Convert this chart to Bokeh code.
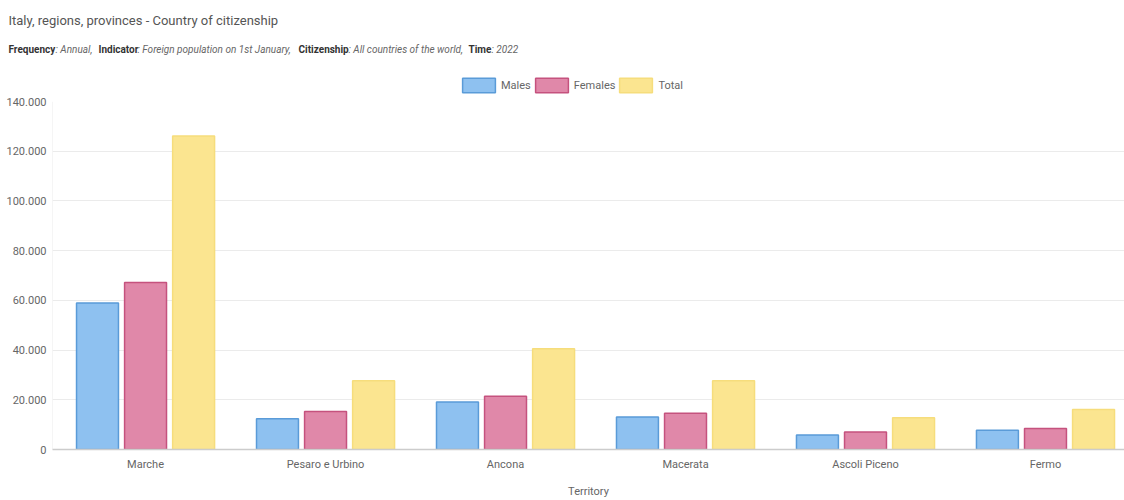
from bokeh.plotting import figure
from bokeh.models import ColumnDataSource, Range1d, FixedTicker, Legend, LegendItem, Label, Column
from bokeh.transform import dodge
from bokeh.embed import file_html
from bokeh.resources import INLINE

territories = ["Marche", "Pesaro e Urbino", "Ancona", "Macerata", "Ascoli Piceno", "Fermo"]
males = [58900, 12400, 19100, 13100, 5800, 7700]
females = [67200, 15300, 21400, 14600, 7000, 8400]
total = [126100, 27700, 40500, 27700, 12800, 16100]
series_names = ["Males", "Females", "Total"]
y_ticks = [0, 20000, 40000, 60000, 80000, 100000, 120000, 140000]
y_tick_labels = ["0", "20.000", "40.000", "60.000", "80.000", "100.000", "120.000", "140.000"]
title_text = "Italy, regions, provinces - Country of citizenship"
sub_text = ["Frequency", ": Annual,", "Indicator", ": Foreign population on 1st January,",
            "Citizenship", ": All countries of the world,", "Time", ": 2022"]

FONT = "Roboto"
fills = ["#8EC1F0", "#E088A9", "#FBE590"]
lines = ["#5A9BD8", "#C5527E", "#F6DD7C"]
fields = ["males", "females", "total"]
offsets = [-0.267, 0.0, 0.267]

src = ColumnDataSource(dict(
    xc=[i + 0.5 for i in range(len(territories))],
    males=males, females=females, total=total,
))

# ---------------- header (title, subtitle, legend) ----------------
h = figure(width=1124, height=95, output_backend="svg", toolbar_location=None,
           x_range=Range1d(0, 1124), y_range=Range1d(95, 0),
           x_axis_type=None, y_axis_type=None, min_border=0)
h.outline_line_color = None
h.grid.visible = False

h.add_layout(Label(x=8, y=20, text=title_text, text_font=FONT, text_font_size="13px",
                   text_color="#555555", text_baseline="middle"))
sub_style = ["bold", "italic"] * 4
sub_x = [8, 55, 98, 137, 298, 348, 468, 491]
for txt, style, sx in zip(sub_text, sub_style, sub_x):
    h.add_layout(Label(x=sx, y=49, text=txt, text_font=FONT, text_font_size="10px",
                       text_font_style=style,
                       text_color="#333333" if style == "bold" else "#666666",
                       text_baseline="middle"))

# hidden renderers used only as legend swatches
legend_r = []
for f, fc, lc in zip(fields, fills, lines):
    legend_r.append(h.vbar(x="xc", top=f, width=1, source=src, fill_color=fc,
                           line_color=lc, line_width=1.5, visible=False))
legend = Legend(items=[LegendItem(label=n, renderers=[r]) for n, r in zip(series_names, legend_r)],
                orientation="horizontal", location=(458, 1),
                glyph_width=41, glyph_height=18, label_height=18, label_standoff=2, spacing=0,
                padding=0, margin=0, border_line_color=None, background_fill_alpha=0,
                label_text_font=FONT, label_text_font_size="11px", label_text_color="#666666")
h.add_layout(legend)

# ---------------- main chart ----------------
p = figure(width=1124, height=405, output_backend="svg", toolbar_location=None,
           x_range=Range1d(-0.017, 5.939), y_range=Range1d(0, 140000),
           min_border_left=52, min_border_right=0, min_border_top=6, min_border_bottom=51)
p.outline_line_color = None

for f, fc, lc, off in zip(fields, fills, lines, offsets):
    p.vbar(x=dodge("xc", off), top=f, width=0.233, bottom=0, source=src,
           fill_color=fc, line_color=lc, line_width=1.5)

p.xaxis.ticker = FixedTicker(ticks=[i + 0.5 for i in range(len(territories))])
p.xaxis.major_label_overrides = {i + 0.5: t for i, t in enumerate(territories)}
p.xaxis.major_tick_line_color = None
p.xaxis.major_tick_out = 0
p.xaxis.major_tick_in = 0
p.xaxis.minor_tick_line_color = None
p.xaxis.minor_tick_out = 0
p.xaxis.axis_line_color = "#CCCCCC"
p.xaxis.axis_line_width = 1.5
p.xaxis.major_label_standoff = 8
p.xaxis.major_label_text_font = FONT
p.xaxis.major_label_text_font_size = "11px"
p.xaxis.major_label_text_color = "#666666"
p.xaxis.axis_label = "Territory"
p.xaxis.axis_label_text_font = FONT
p.xaxis.axis_label_text_font_size = "11px"
p.xaxis.axis_label_text_font_style = "normal"
p.xaxis.axis_label_text_color = "#666666"
p.xaxis.axis_label_standoff = 11

p.yaxis.ticker = FixedTicker(ticks=y_ticks)
p.yaxis.major_label_overrides = {t: l for t, l in zip(y_ticks, y_tick_labels)}
p.yaxis.major_tick_line_color = None
p.yaxis.major_tick_out = 0
p.yaxis.major_tick_in = 0
p.yaxis.minor_tick_line_color = None
p.yaxis.minor_tick_out = 0
p.yaxis.axis_line_color = None
p.yaxis.major_label_standoff = 6
p.yaxis.major_label_text_font = FONT
p.yaxis.major_label_text_font_size = "11px"
p.yaxis.major_label_text_color = "#666666"

p.xgrid.grid_line_color = None
p.ygrid.grid_line_color = "#EBEBEB"

# left vertical grid line at frame edge
p.segment(x0=[-0.017], y0=[0], x1=[-0.017], y1=[140000], line_color="#EBEBEB", line_width=1)

# header wrapped in its own column so its frame is not aligned with the chart's frame
layout = Column(children=[Column(children=[h]), p], spacing=0)
open("out.html", "w").write(file_html(layout, INLINE))
